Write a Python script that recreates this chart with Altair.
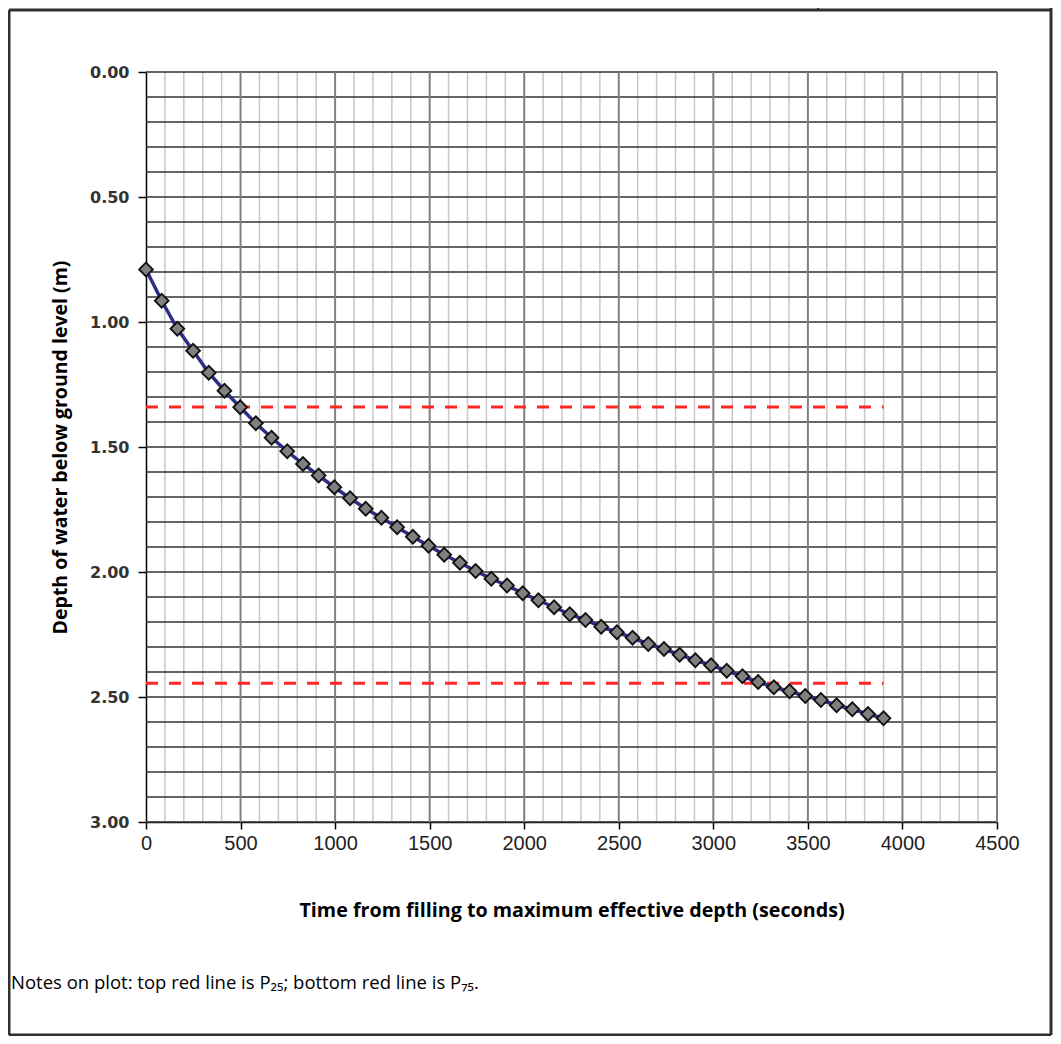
import altair as alt
import pandas as pd

# ---- data ----
time_s = [0, 83, 166, 249, 332, 415, 498, 581, 664, 747, 830, 913,
          996, 1079, 1162, 1245, 1328, 1411, 1494, 1577, 1660, 1743, 1826, 1909,
          1992, 2075, 2158, 2241, 2324, 2407, 2490, 2573, 2656, 2739, 2822, 2905,
          2988, 3071, 3154, 3237, 3320, 3403, 3486, 3569, 3652, 3735, 3818, 3900]
depth_m = [0.790, 0.915, 1.027, 1.115, 1.203, 1.275, 1.341, 1.405, 1.463, 1.517, 1.568, 1.614,
           1.661, 1.705, 1.747, 1.783, 1.821, 1.859, 1.895, 1.931, 1.963, 1.996, 2.027, 2.054,
           2.085, 2.113, 2.141, 2.169, 2.192, 2.219, 2.241, 2.263, 2.288, 2.308, 2.331, 2.353,
           2.373, 2.395, 2.417, 2.440, 2.461, 2.477, 2.496, 2.512, 2.533, 2.549, 2.568, 2.585]
p_names = ["P25", "P75"]
p_values = [1.34, 2.445]
p_x_start = [0, 0]
p_x_end = [3900, 3900]

x_ticks = [0, 500, 1000, 1500, 2000, 2500, 3000, 3500, 4000, 4500]
y_ticks = [0.0, 0.5, 1.0, 1.5, 2.0, 2.5, 3.0]

x_title = "Time from filling to maximum effective depth (seconds)"
y_title = "Depth of water below ground level (m)"
note = "Notes on plot: top red line is P\u2082\u2085; bottom red line is P\u2087\u2085."

# ---- tables ----
series = pd.DataFrame({"t": time_s, "d": depth_m})
pct = pd.DataFrame({"name": p_names, "d": p_values, "t": p_x_start, "t2": p_x_end})
minor_v = pd.DataFrame({"t": [v for v in range(100, 4500, 100) if v % 500 != 0]})
major_v = pd.DataFrame({"t": list(range(500, 4501, 500))})
horiz = pd.DataFrame({"d": [round(i / 10, 1) for i in range(0, 31)]})
one = pd.DataFrame({"k": [0]})

xscale = alt.Scale(domain=[0, 4500], nice=False, zero=False)
yscale = alt.Scale(domain=[0, 3], reverse=True, nice=False, zero=False)

xaxis = alt.Axis(values=x_ticks, format="d", grid=False, tickSize=7, tickColor="black",
                 tickWidth=1.5, domainColor="black", domainWidth=1.5, labelFont="Liberation Sans",
                 labelFontSize=20, labelColor="#222222", labelPadding=4, labelFlush=False,
                 title=x_title, titleFont="Open Sans", titleFontSize=19.7, titleFontWeight="bold",
                 titleColor="black", titleY=88, titleBaseline="middle")
yaxis = alt.Axis(values=y_ticks, format=".2f", grid=False, tickSize=8, tickColor="black",
                 tickWidth=1.5, domainColor="black", domainWidth=1.5, labelFont="DejaVu Sans",
                 labelFontSize=16, labelFontWeight="bold", labelColor="#333333", labelPadding=9,
                 labelFlush=False,
                 title=y_title, titleFont="Open Sans", titleFontSize=19.5, titleFontWeight="bold",
                 titleColor="black", titleX=-86, titleY=375, titleAngle=270,
                 titleAlign="center", titleBaseline="middle")


def X(f):
    return alt.X(f, type="quantitative", scale=xscale, axis=xaxis)


def Y(f):
    return alt.Y(f, type="quantitative", scale=yscale, axis=yaxis)


minor_layer = alt.Chart(minor_v).mark_rule(color="#c8c8c8", strokeWidth=1.5).encode(x=X("t"))
horiz_layer = alt.Chart(horiz).mark_rule(color="#333333", strokeWidth=1.5).encode(y=Y("d"))
major_layer = alt.Chart(major_v).mark_rule(color="#808080", strokeWidth=2).encode(x=X("t"))

pct_layer = alt.Chart(pct).mark_rule(color="#ff2626", strokeWidth=3, strokeDash=[12, 11]).encode(
    x=X("t"), x2="t2", y=Y("d"))

line_layer = alt.Chart(series).mark_line(color="#2d2d86", strokeWidth=3.5).encode(x=X("t"), y=Y("d"))
point_layer = alt.Chart(series).mark_point(shape="diamond", filled=True, fill="#808080",
                                           stroke="#111111", strokeWidth=1.8, size=190,
                                           opacity=1).encode(x=X("t"), y=Y("d"))

frame_col = "#303030"
frame_left = alt.Chart(one).mark_rule(color=frame_col, strokeWidth=3).encode(
    x=alt.value(-137), y=alt.value(-62), y2=alt.value(963))
frame_right = alt.Chart(one).mark_rule(color=frame_col, strokeWidth=3).encode(
    x=alt.value(905), y=alt.value(-64), y2=alt.value(963))
frame_top = alt.Chart(one).mark_rule(color=frame_col, strokeWidth=3).encode(
    x=alt.value(-137), x2=alt.value(905), y=alt.value(-62))
frame_bottom = alt.Chart(one).mark_rule(color=frame_col, strokeWidth=3).encode(
    x=alt.value(-137), x2=alt.value(905), y=alt.value(963))
frame_div = alt.Chart(one).mark_rule(color=frame_col, strokeWidth=2).encode(
    x=alt.value(672), y=alt.value(-64), y2=alt.value(-62))

note_layer = alt.Chart(one).mark_text(align="left", baseline="middle", font="Open Sans",
                                      fontSize=18.5, color="black").encode(
    x=alt.value(-135), y=alt.value(911), text=alt.value(note))

chart = alt.layer(
    minor_layer, horiz_layer, major_layer, pct_layer, line_layer, point_layer,
    frame_left, frame_right, frame_top, frame_bottom, frame_div, note_layer
).properties(
    width=851, height=750,
    autosize=alt.AutoSizeParams(type="none"),
    padding={"left": 138, "top": 64, "right": 56, "bottom": 214},
    background="white",
).configure_view(stroke=None)

chart.save("out.html", embed_options={"renderer": "svg", "actions": False})
